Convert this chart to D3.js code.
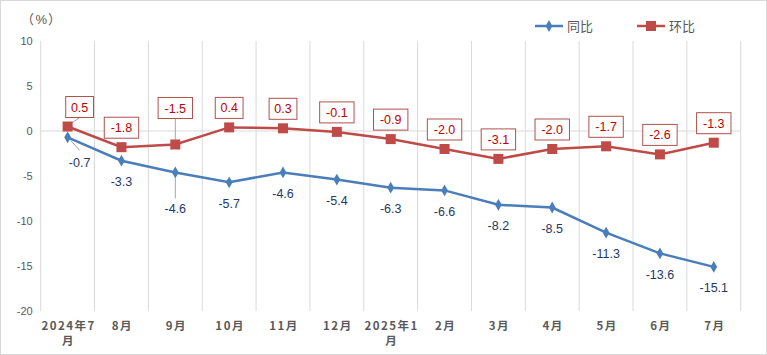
<!DOCTYPE html>
<html><head><meta charset="utf-8">
<script src="https://cdn.jsdelivr.net/npm/d3@7"></script>
<style>body{margin:0;background:#fff;}svg{display:block;}</style>
</head><body>
<svg id="c" width="767" height="355"></svg>
<script>
const categories = ["2024年7月","8月","9月","10月","11月","12月","2025年1月","2月","3月","4月","5月","6月","7月"];
const yoy = [-0.7,-3.3,-4.6,-5.7,-4.6,-5.4,-6.3,-6.6,-8.2,-8.5,-11.3,-13.6,-15.1];
const mom = [0.5,-1.8,-1.5,0.4,0.3,-0.1,-0.9,-2.0,-3.1,-2.0,-1.7,-2.6,-1.3];
const yTicks = [10,5,0,-5,-10,-15,-20];
const seriesNames = ["同比","环比"];

const svg = d3.select("#c");
const W=767,H=355;
const m={l:40.7,r:26.3,t:41,b:44};
const x = d3.scaleBand().domain(categories).range([m.l, W-m.r]);
const y = d3.scaleLinear().domain([-20,10]).range([H-m.b, m.t]);
const cx = d => x(d)+x.bandwidth()/2;
const blue="#4a7ebb", red="#be4b48";

svg.append("rect").attr("x",0.5).attr("y",0.5).attr("width",W-1).attr("height",H-1).attr("fill","#fff").attr("stroke","#d9d9d9");

// vertical gridlines at category boundaries
const bounds = categories.map(c=>x(c)).concat([x(categories[categories.length-1])+x.bandwidth()]);
svg.append("g").selectAll("line").data(bounds).join("line")
  .attr("x1",d=>d).attr("x2",d=>d).attr("y1",y(10)).attr("y2",y(-20))
  .attr("stroke","#d9d9d9").attr("stroke-width",1);
// zero line
svg.append("line").attr("x1",m.l).attr("x2",W-m.r).attr("y1",y(0)).attr("y2",y(0)).attr("stroke","#d9d9d9");

// y axis labels
const ya = d3.axisLeft(y).tickValues(yTicks).tickSize(0).tickPadding(8).tickFormat(d=>String(d));
const gy = svg.append("g").attr("transform",`translate(${m.l},0)`).call(ya);
gy.select(".domain").remove();
gy.selectAll("text").attr("font-family","Liberation Sans, Arial, sans-serif").attr("font-size",11).attr("fill","#595959");

// x axis labels (wrapped)
const gx = svg.append("g");
categories.forEach(c=>{
  const lines = c.length>4 ? [c.slice(0,-1), c.slice(-1)] : [c];
  const t = gx.append("text").attr("x",cx(c)+1).attr("y",y(-20)+19)
    .attr("text-anchor","middle").attr("font-family","Noto Sans CJK SC, sans-serif")
    .attr("font-weight","bold").attr("font-size",11.5).attr("fill","#595959").attr("letter-spacing","1.5px");
  lines.forEach((l,i)=>t.append("tspan").attr("x",cx(c)+1).attr("dy",i?15:0).text(l));
});

// title
const tt = svg.append("text").attr("y",24).attr("font-size",13).attr("fill","#595959");
tt.append("tspan").attr("x",21).attr("font-family","Noto Sans CJK SC, sans-serif").text("（");
tt.append("tspan").attr("x",35.5).attr("font-family","Liberation Sans, Arial, sans-serif").text("%");
tt.append("tspan").attr("x",48).attr("font-family","Noto Sans CJK SC, sans-serif").text("）");

// lines
const line = arr => d3.line().x((d,i)=>cx(categories[i])).y(d=>y(d))(arr);
svg.append("path").attr("d",line(yoy)).attr("fill","none").attr("stroke",blue).attr("stroke-width",2.5);
svg.append("path").attr("d",line(mom)).attr("fill","none").attr("stroke",red).attr("stroke-width",2.5);

// leader lines
svg.append("line").attr("x1",cx(categories[0])+3).attr("y1",y(mom[0])-3).attr("x2",cx(categories[0])+14).attr("y2",y(mom[0])-10).attr("stroke","#a6a6a6");
svg.append("line").attr("x1",cx(categories[2])).attr("y1",y(mom[2])-4).attr("x2",cx(categories[2])).attr("y2",y(mom[2])-26).attr("stroke","#a6a6a6");
svg.append("line").attr("x1",cx(categories[0])+3).attr("y1",y(yoy[0])+3).attr("x2",cx(categories[0])+12).attr("y2",y(yoy[0])+13).attr("stroke","#a6a6a6");
svg.append("line").attr("x1",cx(categories[2])).attr("y1",y(yoy[2])+4).attr("x2",cx(categories[2])).attr("y2",y(yoy[2])+26).attr("stroke","#a6a6a6");

// markers
svg.append("g").selectAll("path").data(yoy).join("path")
  .attr("transform",(d,i)=>`translate(${cx(categories[i])},${y(d)})`)
  .attr("d",d3.symbol(d3.symbolDiamond,40)()).attr("fill",blue);
svg.append("g").selectAll("rect").data(mom).join("rect")
  .attr("x",(d,i)=>cx(categories[i])-5).attr("y",d=>y(d)-5).attr("width",10).attr("height",10).attr("fill",red);

// mom labels in boxes
const fmt = v => v.toFixed(1);
mom.forEach((v,i)=>{
  let px = cx(categories[i]), bottom = y(v)-9;
  if(i===0) px += 12;
  if(i===2) bottom = y(v)-26;
  const txt = fmt(v);
  const w = txt.length*6.6+8, h=21;
  svg.append("rect").attr("x",px-w/2).attr("y",bottom-h).attr("width",w).attr("height",h)
    .attr("fill","#fff").attr("stroke","#b0514e").attr("stroke-width",1);
  svg.append("text").attr("x",px).attr("y",bottom-h/2+4.5).attr("text-anchor","middle")
    .attr("font-family","Liberation Sans, Arial, sans-serif").attr("font-size",12.5).attr("fill","#c00000").text(txt);
});
// yoy labels
yoy.forEach((v,i)=>{
  let px = cx(categories[i]), py = y(v)+21;
  if(i===0){px+=12; py=y(v)+25;}
  if(i===2) py = y(v)+36;
  svg.append("text").attr("x",px).attr("y",py+4.5).attr("text-anchor","middle")
    .attr("font-family","Liberation Sans, Arial, sans-serif").attr("font-size",12.5).attr("fill","#1f3864").text(fmt(v));
});

// legend
const lg = svg.append("g");
lg.append("line").attr("x1",535).attr("x2",563).attr("y1",26).attr("y2",26).attr("stroke",blue).attr("stroke-width",2.5);
lg.append("path").attr("transform","translate(549,26)").attr("d",d3.symbol(d3.symbolDiamond,40)()).attr("fill",blue);
lg.append("text").attr("x",567).attr("y",30.5).attr("font-family","Noto Sans CJK SC, sans-serif").attr("font-size",13).attr("fill","#595959").text(seriesNames[0]);
lg.append("line").attr("x1",637).attr("x2",665).attr("y1",26).attr("y2",26).attr("stroke",red).attr("stroke-width",2.5);
lg.append("rect").attr("x",646).attr("y",21).attr("width",10).attr("height",10).attr("fill",red);
lg.append("text").attr("x",669).attr("y",30.5).attr("font-family","Noto Sans CJK SC, sans-serif").attr("font-size",13).attr("fill","#595959").text(seriesNames[1]);
</script>
</body></html>
